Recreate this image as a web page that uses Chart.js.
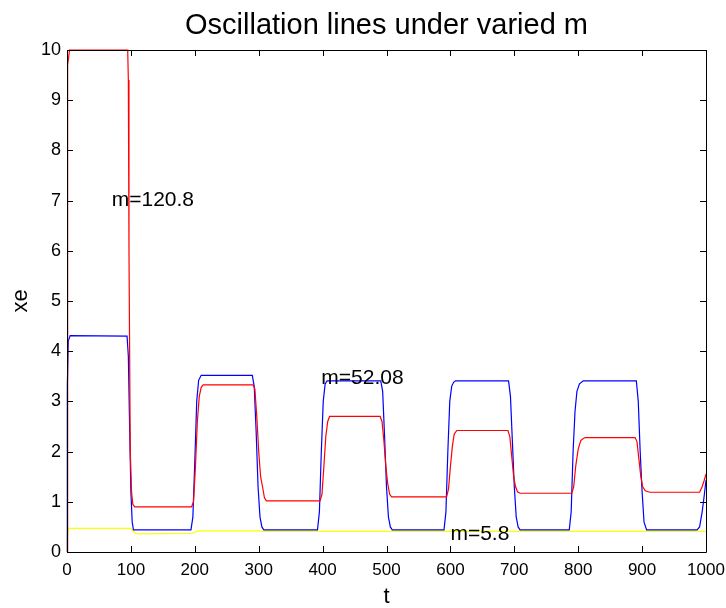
<!DOCTYPE html>
<html>
<head>
<meta charset="utf-8">
<script src="https://cdn.jsdelivr.net/npm/chart.js@4.4.1/dist/chart.umd.min.js"></script>
<style>
body { margin: 0; background: #fff; }
</style>
</head>
<body>
<canvas id="myChart" width="726" height="608"></canvas>
<script>
// values (t, xe) for each m
var tRed = [0, 0.5, 1.5, 4, 95, 96, 97, 99, 101, 103, 106, 195, 198, 201, 204, 207, 210, 213, 291, 294, 297, 300, 303, 306, 309, 312, 396, 399, 402, 405, 408, 411, 490, 493, 496, 499, 502, 505, 508, 594, 597, 600, 603, 606, 610, 690, 693, 696, 699, 702, 705, 709, 790, 793, 796, 800, 804, 808, 811, 889, 892, 895, 898, 901, 905, 912, 990, 994, 997, 1000];
var xeRed = [0, 8.0, 9.7, 10, 10, 9.4, 6.0, 2.0, 1.2, 0.95, 0.9, 0.9, 1.0, 1.7, 2.6, 3.1, 3.28, 3.33, 3.33, 3.25, 2.7, 2.0, 1.5, 1.3, 1.08, 1.02, 1.02, 1.15, 1.7, 2.3, 2.6, 2.70, 2.70, 2.6, 2.2, 1.7, 1.35, 1.15, 1.10, 1.10, 1.25, 1.7, 2.1, 2.35, 2.42, 2.42, 2.3, 1.9, 1.5, 1.3, 1.2, 1.17, 1.17, 1.3, 1.7, 2.05, 2.22, 2.26, 2.28, 2.28, 2.2, 1.85, 1.5, 1.3, 1.22, 1.19, 1.19, 1.3, 1.42, 1.55];

var tBlue = [0, 0.5, 2, 5, 94, 96, 98, 100, 102, 104, 194, 197, 200, 203, 206, 210, 290, 293, 296, 299, 302, 305, 308, 392, 395, 398, 401, 404, 407, 491, 494, 497, 500, 503, 506, 509, 590, 593, 596, 599, 602, 605, 608, 691, 694, 697, 700, 703, 706, 709, 786, 789, 792, 795, 798, 802, 808, 891, 894, 897, 900, 903, 907, 986, 990, 994, 997, 1000];
var xeBlue = [0, 3.3, 4.2, 4.31, 4.3, 3.9, 2.5, 1.2, 0.6, 0.44, 0.44, 0.7, 1.8, 3.0, 3.42, 3.52, 3.52, 3.3, 2.4, 1.3, 0.7, 0.5, 0.44, 0.44, 0.8, 2.0, 3.0, 3.35, 3.41, 3.41, 3.2, 2.3, 1.3, 0.7, 0.5, 0.44, 0.44, 0.8, 2.0, 3.0, 3.3, 3.38, 3.41, 3.41, 3.1, 2.2, 1.3, 0.7, 0.5, 0.44, 0.44, 0.8, 2.0, 2.8, 3.2, 3.35, 3.41, 3.41, 3.0, 2.0, 1.2, 0.6, 0.44, 0.44, 0.5, 0.8, 1.1, 1.43];

var tYellow = [0, 0.5, 3, 100, 104, 111, 195, 205, 300, 306, 1000];
var xeYellow = [0, 0.38, 0.47, 0.47, 0.40, 0.36, 0.37, 0.42, 0.42, 0.41, 0.41];

var xTicks = [0, 100, 200, 300, 400, 500, 600, 700, 800, 900, 1000];
var yTicks = [0, 1, 2, 3, 4, 5, 6, 7, 8, 9, 10];

// text labels: [text, t, xe]
var Etiquetas = [['m=120.8', 70, 7.0], ['m=52.08', 398, 3.47], ['m=5.8', 600, 0.36]];

var FUENTE = "'Liberation Sans', Arial, sans-serif";

function Puntos(t, v)
{
    var p = [];
    for (var i = 0; i < t.length; i++) p.push({x: t[i], y: v[i]});
    return p;
}

var marco = {
    id: 'marco',
    afterDraw: function(chart)
    {
        var ctx = chart.ctx;
        var a = chart.chartArea;
        var sx = chart.scales.x, sy = chart.scales.y;
        ctx.save();
        ctx.strokeStyle = '#000';
        ctx.lineWidth = 1;
        ctx.beginPath();
        ctx.rect(Math.round(a.left) + 0.5, Math.round(a.top) + 0.5, Math.round(a.right - a.left), Math.round(a.bottom - a.top));
        // inward ticks on all four sides
        xTicks.forEach(function(v) {
            var px = Math.round(sx.getPixelForValue(v)) + 0.5;
            ctx.moveTo(px, a.bottom); ctx.lineTo(px, a.bottom - 6);
            ctx.moveTo(px, a.top); ctx.lineTo(px, a.top + 6);
        });
        yTicks.forEach(function(v) {
            var py = Math.round(sy.getPixelForValue(v)) + 0.5;
            ctx.moveTo(a.left, py); ctx.lineTo(a.left + 6, py);
            ctx.moveTo(a.right, py); ctx.lineTo(a.right - 6, py);
        });
        ctx.stroke();

        ctx.fillStyle = '#000';
        ctx.font = '21px ' + FUENTE;
        ctx.textAlign = 'left';
        ctx.textBaseline = 'middle';
        Etiquetas.forEach(function(e) {
            ctx.fillText(e[0], sx.getPixelForValue(e[1]), sy.getPixelForValue(e[2]));
        });

        ctx.textAlign = 'center';
        ctx.textBaseline = 'alphabetic';
        ctx.font = '29px ' + FUENTE;
        ctx.fillText('Oscillation lines under varied m', (a.left + a.right) / 2, 34);
        ctx.font = '22px ' + FUENTE;
        ctx.fillText('t', (a.left + a.right) / 2, 603);
        ctx.translate(27, (a.top + a.bottom) / 2);
        ctx.rotate(-Math.PI / 2);
        ctx.fillText('xe', 0, 0);
        ctx.restore();
    }
};

var ctx = document.getElementById('myChart').getContext('2d');
var chart = new Chart(ctx, {
    type: 'scatter',
    data: {
        datasets: [
            {label: 'm=120.8', data: Puntos(tRed, xeRed), borderColor: '#ff0000', backgroundColor: '#ff0000'},
            {label: 'm=52.08', data: Puntos(tBlue, xeBlue), borderColor: '#0000ff', backgroundColor: '#0000ff'},
            {label: 'm=5.8', data: Puntos(tYellow, xeYellow), borderColor: '#ffff00', backgroundColor: '#ffff00'}
        ]
    },
    options: {
        responsive: false,
        animation: false,
        showLine: true,
        clip: 4,
        elements: {
            line: {borderWidth: 1.2, tension: 0},
            point: {radius: 0, hoverRadius: 0}
        },
        layout: {padding: {top: 50, right: 20, left: 0, bottom: 0}},
        plugins: {legend: {display: false}, tooltip: {enabled: false}, title: {display: false}},
        scales: {
            x: {
                type: 'linear', min: 0, max: 1000,
                grid: {display: false, drawTicks: false},
                border: {display: false},
                afterBuildTicks: function(s) { s.ticks = xTicks.map(function(v) { return {value: v}; }); },
                afterFit: function(s) { s.height = 56; s.paddingLeft = 0; s.paddingRight = 0; },
                ticks: {color: '#000', padding: 8, maxRotation: 0, font: {size: 17, family: FUENTE},
                    callback: function(v) { return String(v); }}
            },
            y: {
                type: 'linear', min: 0, max: 10,
                grid: {display: false, drawTicks: false},
                border: {display: false},
                afterBuildTicks: function(s) { s.ticks = yTicks.map(function(v) { return {value: v}; }); },
                afterFit: function(s) { s.width = 67; s.paddingTop = 0; s.paddingBottom = 0; },
                ticks: {color: '#000', padding: 6, font: {size: 18, family: FUENTE},
                    callback: function(v) { return String(v); }}
            }
        }
    },
    plugins: [marco]
});
</script>
</body>
</html>
